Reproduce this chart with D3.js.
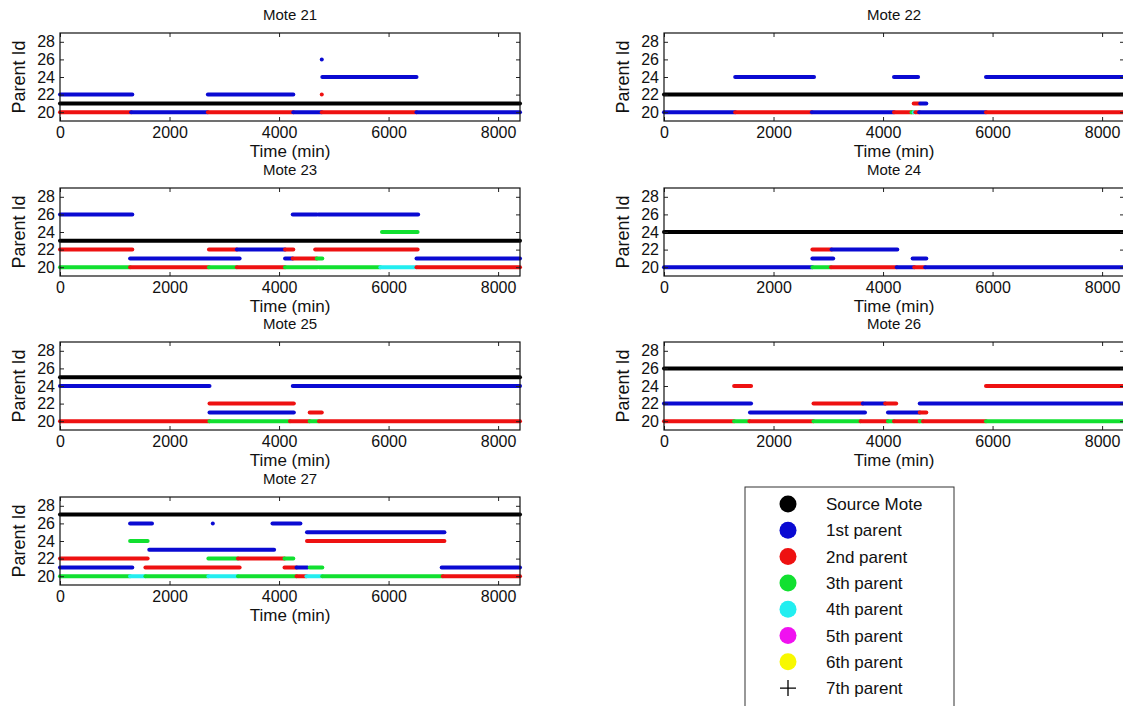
<!DOCTYPE html>
<html>
<head>
<meta charset="utf-8">
<script src="https://cdn.jsdelivr.net/npm/d3@7"></script>
<style>
body { margin: 0; background: #fff; }
text { font-family: "Liberation Sans", Arial, sans-serif; fill: #111; }
</style>
</head>
<body>
<svg id="chart" width="1123" height="706"></svg>
<script>
// parent id changes over time for each mote
// each segment: [rank, parentId, startMin, endMin]; rank 0 = source mote
var motes = [21, 22, 23, 24, 25, 26, 27];
var xTicks = [0, 2000, 4000, 6000, 8000];
var yTicks = [20, 22, 24, 26, 28];
var legendLabels = ["Source Mote", "1st parent", "2nd parent", "3th parent", "4th parent", "5th parent", "6th parent", "7th parent"];
var rankColors = ["#000000", "#0a0ad2", "#ee1111", "#11e030", "#22eef0", "#f011f0", "#f8f800", "#000000"];

var mote21 = [
  [0, 21, 0, 8400],
  [1, 22, 0, 1320], [1, 22, 2700, 4260], [1, 26, 4780, 4780], [1, 24, 4790, 6510],
  [2, 22, 4780, 4780],
  [2, 20, 0, 1300], [1, 20, 1300, 2700], [2, 20, 2700, 4260], [1, 20, 4260, 4780],
  [2, 20, 4780, 6510], [1, 20, 6510, 8400]
];
var mote22 = [
  [0, 22, 0, 8400],
  [1, 24, 1300, 2740], [1, 24, 4200, 4640], [1, 24, 5880, 8400],
  [1, 20, 0, 1300], [2, 20, 1300, 2700], [1, 20, 2700, 4200], [2, 20, 4200, 4520],
  [3, 20, 4520, 4560], [4, 20, 4560, 4590], [2, 20, 4590, 4660], [1, 20, 4660, 5880], [2, 20, 5880, 8400],
  [2, 21, 4560, 4660], [1, 21, 4680, 4790]
];
var mote23 = [
  [0, 23, 0, 8400],
  [1, 26, 0, 1320], [1, 26, 4250, 4690], [1, 26, 4720, 6540],
  [3, 24, 5880, 6530],
  [2, 22, 0, 1320], [2, 22, 2720, 3230], [1, 22, 3230, 4110], [2, 22, 4110, 4260], [2, 22, 4660, 6530],
  [1, 21, 1280, 3280], [1, 21, 4110, 4250], [2, 21, 4250, 4690], [3, 21, 4690, 4790], [1, 21, 6510, 8400],
  [3, 20, 0, 1280], [2, 20, 1280, 2720], [3, 20, 2720, 3230], [2, 20, 3230, 4110],
  [3, 20, 4110, 4700], [3, 20, 4730, 5850], [4, 20, 5850, 6510], [2, 20, 6510, 8400]
];
var mote24 = [
  [0, 24, 0, 8400],
  [2, 22, 2710, 3060], [1, 22, 3060, 4260],
  [1, 21, 2710, 3090], [1, 21, 4540, 4790],
  [1, 20, 0, 2710], [3, 20, 2710, 3050], [2, 20, 3050, 4250], [1, 20, 4250, 4570],
  [2, 20, 4570, 4770], [1, 20, 4770, 8400]
];
var mote25 = [
  [0, 25, 0, 8400],
  [1, 24, 0, 2730], [1, 24, 4250, 8400],
  [2, 22, 2730, 4270],
  [1, 21, 2730, 4270], [2, 21, 4560, 4780],
  [2, 20, 0, 2730], [3, 20, 2730, 4200], [2, 20, 4200, 4560], [3, 20, 4560, 4730], [2, 20, 4730, 8400]
];
var mote26 = [
  [0, 26, 0, 8400],
  [2, 24, 1280, 1590], [2, 24, 5880, 8400],
  [1, 22, 0, 1590], [2, 22, 2730, 3630], [1, 22, 3630, 4040], [2, 22, 4040, 4240], [1, 22, 4670, 8400],
  [1, 21, 1570, 3670], [1, 21, 4090, 4670], [2, 21, 4670, 4790],
  [2, 20, 0, 1280], [3, 20, 1280, 1560], [2, 20, 1560, 2730], [3, 20, 2730, 3590],
  [2, 20, 3590, 4090], [3, 20, 4090, 4200], [2, 20, 4200, 4670], [3, 20, 4670, 4730],
  [2, 20, 4730, 5880], [3, 20, 5880, 8400]
];
var mote27 = [
  [0, 27, 0, 8400],
  [1, 26, 1280, 1680], [1, 26, 2790, 2790], [1, 26, 3880, 4390],
  [1, 25, 4510, 7020],
  [3, 24, 1280, 1600], [2, 24, 4510, 7020],
  [1, 23, 1630, 3910],
  [2, 22, 0, 1600], [3, 22, 2710, 3250], [2, 22, 3250, 4100], [3, 22, 4100, 4260],
  [1, 21, 0, 1320], [2, 21, 1560, 3280], [2, 21, 4100, 4320], [1, 21, 4320, 4520],
  [3, 21, 4560, 4790], [1, 21, 6970, 8400],
  [3, 20, 0, 1280], [4, 20, 1280, 1560], [3, 20, 1560, 2710], [4, 20, 2710, 3250],
  [3, 20, 3250, 4320], [2, 20, 4320, 4500], [4, 20, 4500, 4790], [3, 20, 4790, 6990], [2, 20, 6990, 8400]
];
var moteSegments = [mote21, mote22, mote23, mote24, mote25, mote26, mote27];

var svg = d3.select("#chart");
var plotW = 460, plotH = 88;
var colX = [60, 664];
var rowY = [33, 188, 342, 497];

var x = d3.scaleLinear().domain([0, 8400]).range([0, plotW]);
var y = d3.scaleLinear().domain([19, 29]).range([plotH, 0]);

motes.forEach(function(m, i) {
  var g = svg.append("g")
    .attr("transform", "translate(" + colX[i % 2] + "," + rowY[Math.floor(i / 2)] + ")");

  g.append("rect").attr("width", plotW).attr("height", plotH)
    .attr("fill", "#fff").attr("stroke", "none");

  // segments
  g.selectAll("line.seg").data(moteSegments[i]).enter().append("line")
    .attr("class", "seg")
    .attr("x1", function(d) { return x(d[2]); })
    .attr("x2", function(d) { return x(d[3]); })
    .attr("y1", function(d) { return y(d[1]); })
    .attr("y2", function(d) { return y(d[1]); })
    .attr("stroke", function(d) { return rankColors[d[0]]; })
    .attr("stroke-width", 4)
    .attr("stroke-linecap", "round");

  // axes with inward ticks
  var bottom = g.append("g").attr("transform", "translate(0," + plotH + ")")
    .call(d3.axisBottom(x).tickValues(xTicks).tickFormat(d3.format("d"))
      .tickSizeInner(-4).tickSizeOuter(0).tickPadding(6));
  g.append("g")
    .call(d3.axisTop(x).tickValues(xTicks).tickSizeInner(-4).tickSizeOuter(0).tickFormat(""));
  var left = g.append("g")
    .call(d3.axisLeft(y).tickValues(yTicks).tickSizeInner(-4).tickSizeOuter(0).tickPadding(5));
  g.append("g").attr("transform", "translate(" + plotW + ",0)")
    .call(d3.axisRight(y).tickValues(yTicks).tickSizeInner(-4).tickSizeOuter(0).tickFormat(""));

  g.selectAll(".domain").remove();
  g.selectAll(".tick line").attr("stroke", "#222");
  bottom.selectAll("text").attr("font-size", 16).attr("fill", "#111");
  left.selectAll("text").attr("font-size", 16).attr("fill", "#111");

  g.append("rect").attr("width", plotW).attr("height", plotH)
    .attr("fill", "none").attr("stroke", "#111").attr("stroke-width", 1.2);

  g.append("text").attr("x", plotW / 2).attr("y", -13)
    .attr("text-anchor", "middle").attr("font-size", 15).text("Mote " + m);
  g.append("text").attr("x", plotW / 2).attr("y", plotH + 36)
    .attr("text-anchor", "middle").attr("font-size", 17).text("Time (min)");
  g.append("text")
    .attr("transform", "translate(" + (-35) + "," + (plotH / 2) + ") rotate(-90)")
    .attr("text-anchor", "middle").attr("font-size", 18).text("Parent Id");
});

// legend
var lg = svg.append("g").attr("transform", "translate(745,487)");
lg.append("rect").attr("width", 209).attr("height", 240)
  .attr("fill", "#fff").attr("stroke", "#333").attr("stroke-width", 1);
var items = lg.selectAll("g.item").data(legendLabels).enter().append("g")
  .attr("class", "item")
  .attr("transform", function(d, i) { return "translate(0," + (17 + i * 26.3) + ")"; });
items.each(function(d, i) {
  var it = d3.select(this);
  if (i < 7) {
    it.append("circle").attr("cx", 43).attr("cy", 0).attr("r", 8.5)
      .attr("fill", rankColors[i]);
  } else {
    it.append("path").attr("d", "M35,0H51M43,-8V8")
      .attr("stroke", "#000").attr("stroke-width", 1.3);
  }
  it.append("text").attr("x", 81).attr("y", 6).attr("font-size", 17).text(d);
});
</script>
</body>
</html>
